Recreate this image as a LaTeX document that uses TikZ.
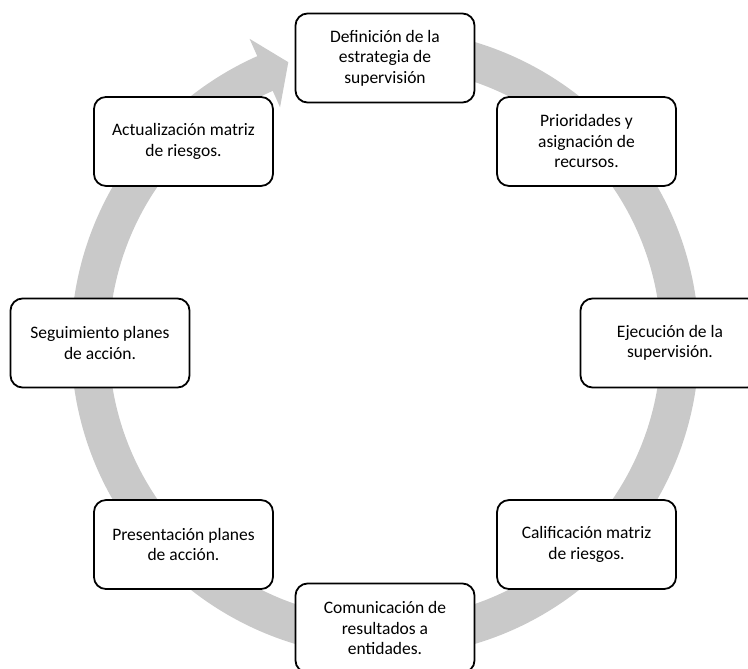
\documentclass[tikz,border=0pt]{standalone}
\usepackage{fontspec}
\setmainfont{Carlito}
\usetikzlibrary{calc}
\definecolor{ringgray}{RGB}{201,201,201}
\begin{document}
\begin{tikzpicture}[
  stagebox/.style={draw=black, line width=1.8pt, fill=white, rounded corners=12pt,
    minimum width=179pt, minimum height=89pt, align=center, inner sep=0pt,
    font=\fontsize{17.5}{20.5}\selectfont}]
\useasboundingbox (0,0) rectangle (748pt,-669pt);
\coordinate (C) at (385pt,-343pt);
\fill[ringgray] ($(C)+(100:314pt)$) arc[start angle=100,end angle=-246,radius=314pt]
  -- ($(C)+(114:333pt)$) -- ($(C)+(109:297pt)$) -- ($(C)+(114:258pt)$)
  -- ($(C)+(114:276pt)$) arc[start angle=-246,end angle=100,radius=276pt] -- cycle;
\node[stagebox] (n1) at ($(C)+(90:285pt)$) {Definición de la\\estrategia de\\supervisión};
\node[stagebox] (n2) at ($(C)+(45:285pt)$) {Prioridades y\\asignación de\\recursos.};
\node[stagebox] (n3) at ($(C)+(0:285pt)$) {Ejecución de la\\supervisión.};
\node[stagebox] (n4) at ($(C)+(-45:285pt)$) {Calificación matriz\\de riesgos.};
\node[stagebox] (n5) at ($(C)+(-90:285pt)$) {Comunicación de\\resultados a\\entidades.};
\node[stagebox] (n6) at ($(C)+(-135:285pt)$) {Presentación planes\\de acción.};
\node[stagebox] (n7) at ($(C)+(180:285pt)$) {Seguimiento planes\\de acción.};
\node[stagebox] (n8) at ($(C)+(135:285pt)$) {Actualización matriz\\de riesgos.};
\end{tikzpicture}
\end{document}
